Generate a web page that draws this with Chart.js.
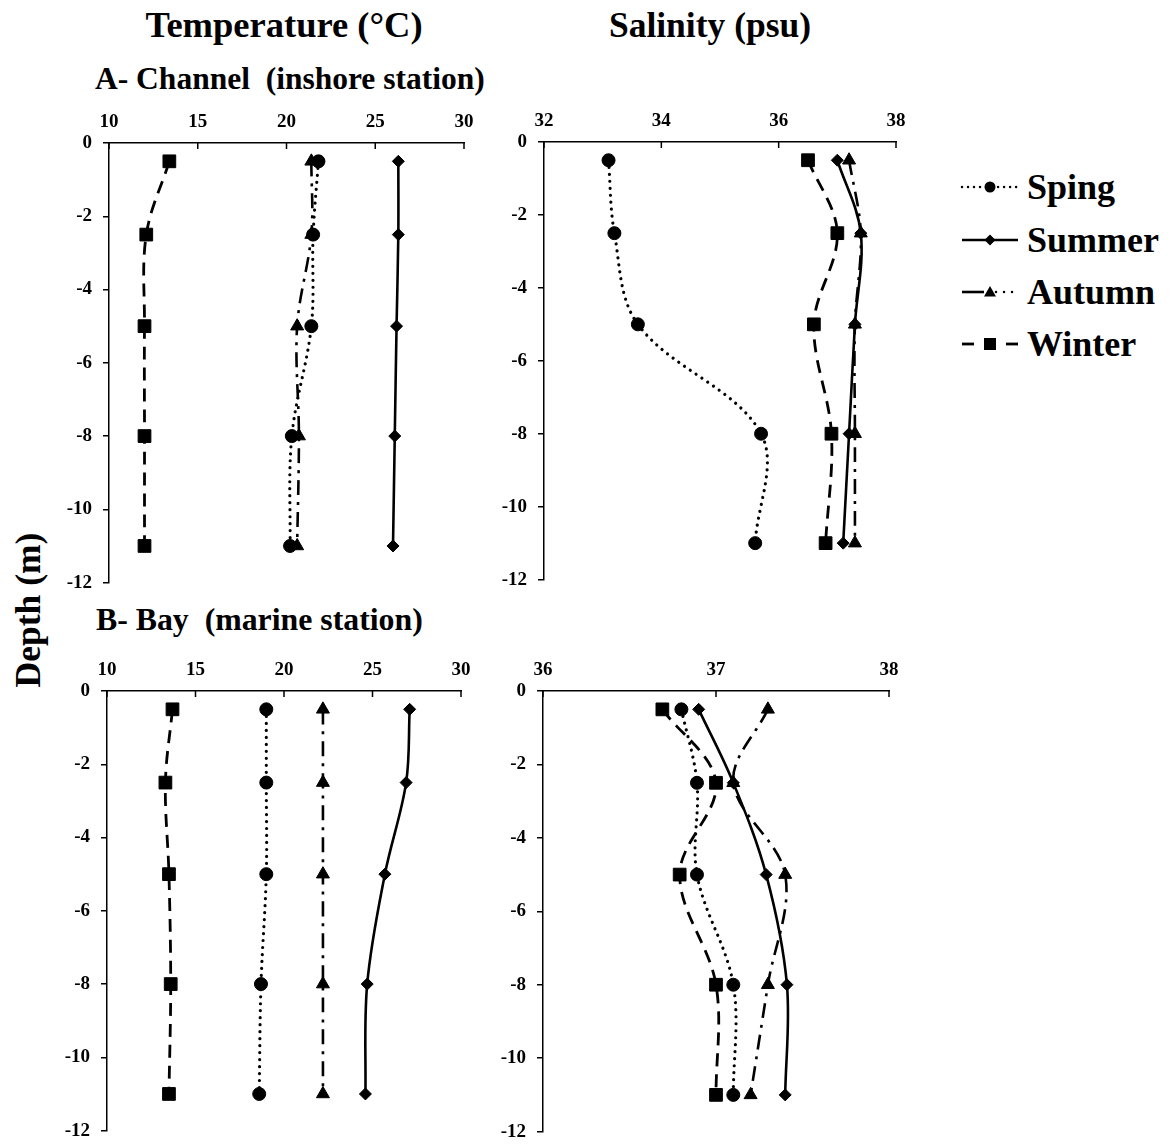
<!DOCTYPE html>
<html><head><meta charset="utf-8">
<script src="https://cdn.jsdelivr.net/npm/chart.js@4.4.1/dist/chart.umd.min.js"></script>
<style>
body{margin:0;background:#fff;width:1170px;height:1147px;position:relative;overflow:hidden;font-family:'Liberation Serif','Times New Roman',serif;font-weight:bold;color:#000}
.t{position:absolute;white-space:nowrap;line-height:40px;height:40px}
canvas{position:absolute}
.lg{position:absolute;left:960px;height:40px;white-space:nowrap}
.lg svg{position:absolute;left:0;top:10px}
.lg span{position:absolute;left:67px;top:0;font-size:36px;line-height:40px}
</style></head><body>
<div class="t" style="left:134px;top:5px;width:300px;text-align:center;font-size:36.5px">Temperature (°C)</div>
<div class="t" style="left:560px;top:5px;width:300px;text-align:center;font-size:35.5px">Salinity (psu)</div>
<div class="t" style="left:95px;top:59px;font-size:31.5px">A- Channel&nbsp; (inshore station)</div>
<div class="t" style="left:96px;top:600px;font-size:31.8px">B- Bay&nbsp; (marine station)</div>
<div class="t" style="left:-52px;top:590px;width:160px;text-align:center;font-size:35.5px;transform:rotate(-90deg)">Depth (m)</div>
<div id="legend"></div>
<canvas id="c1"></canvas><canvas id="c2"></canvas><canvas id="c3"></canvas><canvas id="c4"></canvas>
<script>
// ---- data ----
const depths = [-0.5, -2.5, -5, -8, -11];
const seasons = ['Sping', 'Summer', 'Autumn', 'Winter'];
const depthTicks = [0, -2, -4, -6, -8, -10, -12];
const tempTicks = [10, 15, 20, 25, 30];
const salTicksChannel = [32, 34, 36, 38];
const salTicksBay = [36, 37, 38];

const tempChannelSpring = [21.8, 21.5, 21.4, 20.3, 20.2];
const tempChannelSummer = [26.3, 26.3, 26.2, 26.1, 26.0];
const tempChannelAutumn = [21.4, 21.4, 20.6, 20.7, 20.6];
const tempChannelWinter = [13.4, 12.1, 12.0, 12.0, 12.0];

const salChannelSpring = [33.1, 33.2, 33.6, 35.7, 35.6];
const salChannelSummer = [37.0, 37.4, 37.3, 37.2, 37.1];
const salChannelAutumn = [37.2, 37.4, 37.3, 37.3, 37.3];
const salChannelWinter = [36.5, 37.0, 36.6, 36.9, 36.8];

const tempBaySpring = [19.0, 19.0, 19.0, 18.7, 18.6];
const tempBaySummer = [27.1, 26.9, 25.7, 24.7, 24.6];
const tempBayAutumn = [22.2, 22.2, 22.2, 22.2, 22.2];
const tempBayWinter = [13.7, 13.3, 13.5, 13.6, 13.5];

const salBaySpring = [36.8, 36.89, 36.89, 37.1, 37.1];
const salBaySummer = [36.9, 37.1, 37.29, 37.41, 37.4];
const salBayAutumn = [37.3, 37.1, 37.4, 37.3, 37.2];
const salBayWinter = [36.69, 37.0, 36.79, 37.0, 37.0];

// ---- styles ----
const FONT = "'Liberation Serif','Times New Roman',serif";
const styles = [
  {borderDash: [0.01, 7], borderWidth: 3.2, borderCapStyle: 'round', pointStyle: 'circle', pointRadius: 6.5},
  {borderDash: [], borderWidth: 2.6, borderCapStyle: 'butt', pointStyle: 'rectRot', pointRadius: 6},
  {borderDash: [15, 7, 3, 7], borderWidth: 2.6, borderCapStyle: 'butt', pointStyle: 'triangle', pointRadius: 7.5},
  {borderDash: [13, 8], borderWidth: 2.8, borderCapStyle: 'butt', pointStyle: 'rect', pointRadius: 9}
];

function makeDatasets(series) {
  return series.map((vals, i) => Object.assign({
    label: seasons[i],
    data: vals.map((v, k) => ({x: v, y: depths[k]})),
    showLine: true,
    tension: 0.35,
    borderColor: '#000',
    backgroundColor: '#000',
    pointBackgroundColor: '#000',
    pointBorderColor: '#000',
    pointBorderWidth: 1,
    pointHoverRadius: 0
  }, styles[i]));
}

const innerTicks = {
  id: 'innerTicks',
  afterDraw(chart) {
    const s = chart.scales.x, ctx = chart.ctx, top = chart.chartArea.top;
    ctx.save();
    ctx.strokeStyle = '#000';
    ctx.lineWidth = 1.5;
    s.ticks.forEach(t => {
      const px = s.getPixelForValue(t.value);
      ctx.beginPath();
      ctx.moveTo(px, top);
      ctx.lineTo(px, top + 6);
      ctx.stroke();
    });
    ctx.restore();
  }
};

function panel(id, area, xTicks, series) {
  const [L, T, R, B] = area;
  const padL = 70, padT = 50, padR = 25, padB = 20;
  const cv = document.getElementById(id);
  const w = Math.round(R - L + padL + padR), h = Math.round(B - T + padT + padB);
  cv.width = w; cv.height = h;
  cv.style.left = (L - padL) + 'px';
  cv.style.top = (T - padT) + 'px';
  cv.style.width = w + 'px'; cv.style.height = h + 'px';
  new Chart(cv, {
    type: 'scatter',
    data: {datasets: makeDatasets(series)},
    options: {
      responsive: false,
      animation: false,
      devicePixelRatio: 1,
      events: [],
      layout: {padding: {left: 0, top: 0, right: padR, bottom: padB}},
      plugins: {legend: {display: false}, tooltip: {enabled: false}},
      scales: {
        x: {
          type: 'linear', position: 'top',
          min: xTicks[0], max: xTicks[xTicks.length - 1],
          afterBuildTicks: s => { s.ticks = xTicks.map(v => ({value: v})); },
          afterFit: s => { s.height = padT; },
          grid: {display: true, drawOnChartArea: false, drawTicks: false},
          border: {display: true, color: '#000', width: 1.5},
          ticks: {color: '#000', padding: 10, font: {family: FONT, size: 19, weight: 'bold'}, callback: v => String(v)}
        },
        y: {
          type: 'linear', position: 'left',
          min: -12, max: 0,
          afterBuildTicks: s => { s.ticks = depthTicks.map(v => ({value: v})); },
          afterFit: s => { s.width = padL; },
          grid: {display: true, drawOnChartArea: false, drawTicks: true, tickLength: 6, color: '#000', lineWidth: 1.5},
          border: {display: true, color: '#000', width: 1.5},
          ticks: {color: '#000', padding: 11, font: {family: FONT, size: 19, weight: 'bold'}, callback: v => String(v)}
        }
      }
    },
    plugins: [innerTicks]
  });
}

panel('c1', [108.5, 143, 463.5, 585], tempTicks,
  [tempChannelSpring, tempChannelSummer, tempChannelAutumn, tempChannelWinter]);
panel('c2', [543.5, 142, 895, 582], salTicksChannel,
  [salChannelSpring, salChannelSummer, salChannelAutumn, salChannelWinter]);
panel('c3', [106.5, 690.5, 460, 1132.5], tempTicks,
  [tempBaySpring, tempBaySummer, tempBayAutumn, tempBayWinter]);
panel('c4', [543, 690.5, 889, 1133], salTicksBay,
  [salBaySpring, salBaySummer, salBayAutumn, salBayWinter]);

// ---- legend ----
const legendY = [187, 240, 292, 344];
const legendSvgs = [
  '<line x1="2" y1="10" x2="58" y2="10" stroke="#000" stroke-width="2.5" stroke-linecap="round" stroke-dasharray="0.01 6"/><circle cx="30" cy="10" r="5.5" fill="#000"/>',
  '<line x1="2" y1="10" x2="58" y2="10" stroke="#000" stroke-width="2.6"/><polygon points="30,4.5 35.5,10 30,15.5 24.5,10" fill="#000"/>',
  '<line x1="2" y1="10" x2="24" y2="10" stroke="#000" stroke-width="2.6"/><line x1="36" y1="10" x2="58" y2="10" stroke="#000" stroke-width="2.5" stroke-linecap="round" stroke-dasharray="0.01 8"/><polygon points="30,4 36,14.5 24,14.5" fill="#000"/>',
  '<line x1="2" y1="10" x2="14" y2="10" stroke="#000" stroke-width="2.8"/><line x1="46" y1="10" x2="58" y2="10" stroke="#000" stroke-width="2.8"/><rect x="24" y="4" width="12" height="12" fill="#000"/>'
];
const lg = document.getElementById('legend');
seasons.forEach((name, i) => {
  const d = document.createElement('div');
  d.className = 'lg';
  d.style.top = (legendY[i] - 20) + 'px';
  d.innerHTML = '<svg width="60" height="20">' + legendSvgs[i] + '</svg><span>' + name + '</span>';
  lg.appendChild(d);
});
</script>
</body></html>
